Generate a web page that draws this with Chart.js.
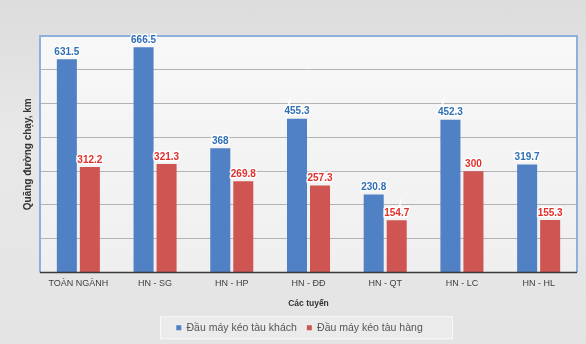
<!DOCTYPE html>
<html>
<head>
<meta charset="utf-8">
<script src="https://cdn.jsdelivr.net/npm/chart.js@4.4.1/dist/chart.umd.min.js"></script>
<style>
  html, body { margin: 0; padding: 0; background: #e4e4e4; }
  #wrap { position: relative; width: 586px; height: 344px;
          background: linear-gradient(#dcdcdc, #e8e8e8 40%, #e4e4e4); }
  canvas { display: block; }
</style>
</head>
<body>
<div id="wrap"><canvas id="c" width="586" height="344"></canvas></div>
<script>
// Tuyến đường và quãng đường chạy bình quân (km)
const categories = ['TOÀN NGÀNH', 'HN - SG', 'HN - HP', 'HN - ĐĐ', 'HN - QT', 'HN - LC', 'HN - HL'];
const passengerKm = [631.5, 666.5, 368, 455.3, 230.8, 452.3, 319.7];
const freightKm = [312.2, 321.3, 269.8, 257.3, 154.7, 300, 155.3];
const seriesNames = ['Đầu máy kéo tàu khách', 'Đầu máy kéo tàu hàng'];
const yTicks = [0, 100, 200, 300, 400, 500, 600, 700];

const FONT = "'Liberation Sans', Arial, sans-serif";
const BLUE = '#4f81c4';
const RED = '#cf5553';

// Plot area background and frame
const plotFrame = {
  id: 'plotFrame',
  beforeDraw(chart) {
    const { ctx, chartArea: a } = chart;
    ctx.save();
    const g = ctx.createLinearGradient(0, a.top, 0, a.bottom);
    g.addColorStop(0, '#f8f8f8');
    g.addColorStop(1, '#efefef');
    ctx.fillStyle = g;
    ctx.fillRect(a.left, a.top, a.right - a.left, a.bottom - a.top);
    ctx.restore();
  },
  afterDatasetsDraw(chart) {
    const { ctx, chartArea: a } = chart;
    ctx.save();
    ctx.strokeStyle = '#8fb0dc';
    ctx.lineWidth = 2;
    ctx.beginPath();
    ctx.moveTo(a.left, a.bottom);
    ctx.lineTo(a.left, a.top);
    ctx.lineTo(a.right, a.top);
    ctx.lineTo(a.right, a.bottom);
    ctx.stroke();
    ctx.strokeStyle = '#3a3a3a';
    ctx.lineWidth = 1.5;
    ctx.beginPath();
    ctx.moveTo(a.left, a.bottom);
    ctx.lineTo(a.right, a.bottom);
    ctx.stroke();
    ctx.restore();
  }
};

// Value labels above each bar
const valueLabels = {
  id: 'valueLabels',
  afterDatasetsDraw(chart) {
    const { ctx } = chart;
    ctx.save();
    ctx.font = 'bold 10px ' + FONT;
    ctx.textAlign = 'center';
    ctx.textBaseline = 'bottom';
    chart.data.datasets.forEach((ds, i) => {
      const meta = chart.getDatasetMeta(i);
      meta.data.forEach((bar, j) => {
        const txt = String(ds.data[j]);
        ctx.lineWidth = 3;
        ctx.strokeStyle = 'rgba(255,255,255,0.85)';
        ctx.strokeText(txt, bar.x, bar.y - 2);
        ctx.fillStyle = i === 0 ? '#2f6fb5' : '#e0302c';
        ctx.fillText(txt, bar.x, bar.y - 2);
      });
    });
    ctx.restore();
  }
};

// Box behind the legend
const legendBox = {
  id: 'legendBox',
  beforeDraw(chart) {
    const l = chart.legend;
    if (!l) return;
    const { ctx } = chart;
    const x0 = 160, x1 = 453;
    const h = 23;
    const y = l.top + l.height / 2 - h / 2;
    ctx.save();
    ctx.fillStyle = '#ebebeb';
    ctx.fillRect(x0, y, x1 - x0, h);
    ctx.strokeStyle = '#f8f8f8';
    ctx.lineWidth = 1;
    ctx.strokeRect(x0 + 0.5, y + 0.5, x1 - x0 - 1, h - 1);
    ctx.restore();
  }
};

new Chart(document.getElementById('c'), {
  type: 'bar',
  data: {
    labels: categories,
    datasets: [
      { label: seriesNames[0], data: passengerKm, backgroundColor: BLUE,
        categoryPercentage: 0.6, barPercentage: 0.87 },
      { label: seriesNames[1], data: freightKm, backgroundColor: RED,
        categoryPercentage: 0.6, barPercentage: 0.87 }
    ]
  },
  options: {
    responsive: false,
    animation: false,
    devicePixelRatio: 1,
    layout: { padding: { left: 22, right: 9, top: 36, bottom: 1 } },
    plugins: {
      legend: {
        position: 'bottom',
        labels: {
          usePointStyle: true, pointStyle: 'rect', boxWidth: 5, boxHeight: 5,
          color: '#555', font: { family: FONT, size: 10.5 }, padding: 10
        }
      },
      tooltip: { enabled: false }
    },
    scales: {
      x: {
        grid: { display: false, drawTicks: false, tickLength: 0 },
        border: { display: false },
        ticks: { color: '#404040', font: { family: FONT, size: 9 }, padding: 6, maxRotation: 0 },
        title: { display: true, text: 'Các tuyến', color: '#333',
                 font: { family: FONT, size: 8.5, weight: 'bold' }, padding: { top: 3, bottom: 4 } }
      },
      y: {
        min: yTicks[0], max: yTicks[yTicks.length - 1],
        afterBuildTicks(axis) { axis.ticks = yTicks.map(v => ({ value: v })); },
        ticks: { display: false },
        grid: { color: '#b3b3b3', lineWidth: 1, drawTicks: false },
        border: { display: false },
        title: { display: true, text: 'Quãng đường chạy, km', color: '#333',
                 font: { family: FONT, size: 10, weight: 'bold' }, padding: { top: 0, bottom: 6 } }
      }
    }
  },
  plugins: [plotFrame, valueLabels, legendBox]
});
</script>
</body>
</html>
